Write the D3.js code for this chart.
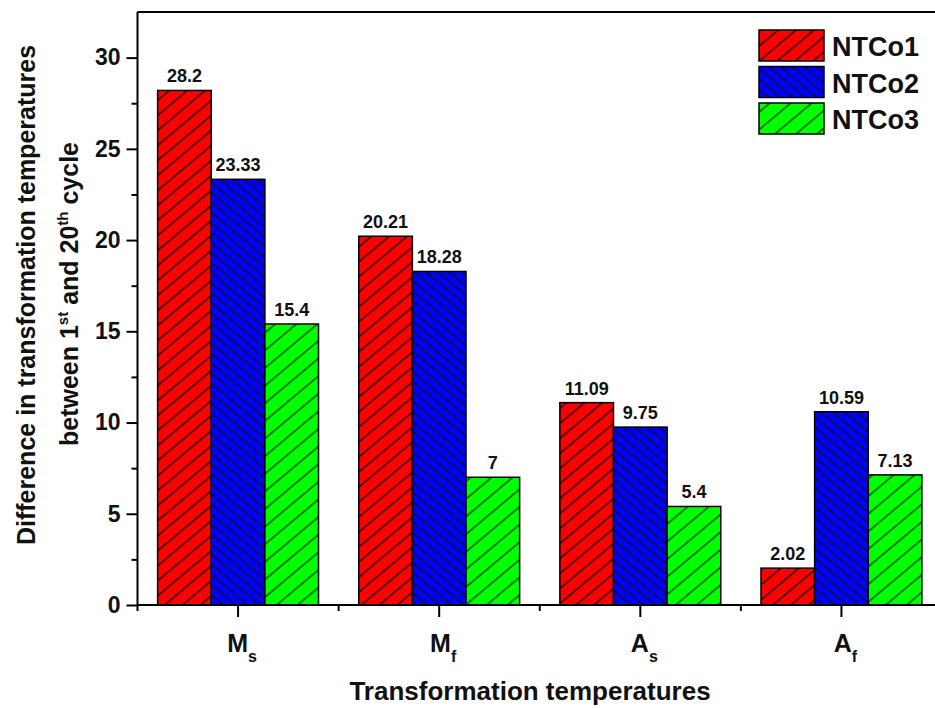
<!DOCTYPE html>
<html><head><meta charset="utf-8">
<script src="https://cdn.jsdelivr.net/npm/d3@7/dist/d3.min.js"></script>
<style>
html,body{margin:0;padding:0;background:#fff;}
svg{display:block;font-family:Arial,"Liberation Sans",sans-serif;font-weight:bold;}
</style></head>
<body><svg id="c" width="935" height="708"></svg>
<script>
const categories = ["M|s", "M|f", "A|s", "A|f"];
const seriesNames = ["NTCo1", "NTCo2", "NTCo3"];
const ntco1 = [28.2, 20.21, 11.09, 2.02];
const ntco2 = [23.33, 18.28, 9.75, 10.59];
const ntco3 = [15.4, 7, 5.4, 7.13];
const valueLabels = [["28.2","20.21","11.09","2.02"],["23.33","18.28","9.75","10.59"],["15.4","7","5.4","7.13"]];
const yTicks = [0, 5, 10, 15, 20, 25, 30];
const yMinor = [2.5, 7.5, 12.5, 17.5, 22.5, 27.5];
const colors = ["#ff0000", "#0000ff", "#00ff00"];
const series = [ntco1, ntco2, ntco3];

const svg = d3.select("#c");
const L = 137.5, R = 942, T = 12, B = 605;

const x = d3.scaleBand().domain(categories).range([L, R]).paddingInner(0.2).paddingOuter(0.1);
const step = x.step();
const xs = d3.scaleBand().domain(seriesNames).range([0, x.bandwidth()]).padding(0);
const y = d3.scaleLinear().domain([0, 32.5]).range([B, T]);

// patterns
const defs = svg.append("defs");
const pat = [
  {angle: -40, sp: 11.5, w: 1.4},
  {angle: 40, sp: 7.7, w: 1.3},
  {angle: -40, sp: 13.5, w: 1.1}
];
pat.forEach((p, i) => {
  const pt = defs.append("pattern").attr("id", "h" + i)
    .attr("patternUnits", "userSpaceOnUse")
    .attr("width", 20).attr("height", p.sp)
    .attr("patternTransform", `rotate(${p.angle})`);
  pt.append("rect").attr("width", 20).attr("height", p.sp).attr("fill", colors[i]);
  pt.append("line").attr("x1", 0).attr("x2", 20).attr("y1", p.sp/2).attr("y2", p.sp/2)
    .attr("stroke", "#111").attr("stroke-width", p.w);
});

// bars
series.forEach((vals, si) => {
  const g = svg.append("g");
  g.selectAll("rect").data(vals).join("rect")
    .attr("x", (d, i) => x(categories[i]) + xs(seriesNames[si]))
    .attr("y", d => y(d))
    .attr("width", xs.bandwidth())
    .attr("height", d => y(0) - y(d))
    .attr("fill", `url(#h${si})`)
    .attr("stroke", "#000").attr("stroke-width", 1.5);
  g.selectAll("text").data(vals).join("text")
    .attr("x", (d, i) => x(categories[i]) + xs(seriesNames[si]) + xs.bandwidth()/2)
    .attr("y", d => y(d) - 8)
    .attr("text-anchor", "middle")
    .attr("font-size", 18)
    .attr("fill", "#111")
    .text((d, i) => valueLabels[si][i]);
});

// frame lines
svg.append("line").attr("x1", L).attr("x2", R).attr("y1", T).attr("y2", T).attr("stroke", "#000").attr("stroke-width", 2);

// y axis
const yAxis = svg.append("g").attr("transform", `translate(${L},0)`)
  .call(d3.axisLeft(y).tickValues(yTicks).tickSize(11).tickPadding(6).tickFormat(d3.format("d")));
yAxis.select(".domain").attr("stroke-width", 2).attr("d", `M0,${T}V${B}`);
yAxis.selectAll(".tick line").attr("stroke-width", 2);
yAxis.selectAll(".tick text").attr("font-size", 23).attr("font-family", "Arial,'Liberation Sans',sans-serif").attr("font-weight", "bold").attr("fill", "#111");
svg.append("g").attr("transform", `translate(${L},0)`)
  .call(d3.axisLeft(y).tickValues(yMinor).tickSize(6).tickFormat(""))
  .call(g => g.select(".domain").remove())
  .selectAll(".tick line").attr("stroke-width", 2);

// x axis
const xAxis = svg.append("g").attr("transform", `translate(0,${B})`)
  .call(d3.axisBottom(x).tickSize(12).tickFormat(""));
xAxis.select(".domain").attr("stroke-width", 2).attr("d", `M${L},0H${R}`);
xAxis.selectAll(".tick line").attr("stroke-width", 2);
const bounds = categories.map(c => x(c) - step * 0.1 - step * 0.0).map((v, i) => x(categories[i]) + x.bandwidth()/2 - step/2);
bounds.push(x(categories[3]) + x.bandwidth()/2 + step/2);
svg.append("g").selectAll("line").data(bounds).join("line")
  .attr("x1", d => d).attr("x2", d => d).attr("y1", B).attr("y2", B + 6)
  .attr("stroke", "#000").attr("stroke-width", 2);

// x tick labels with subscripts
categories.forEach(c => {
  const [main, sub] = c.split("|");
  const t = svg.append("text")
    .attr("x", x(c) + x.bandwidth()/2 + 4).attr("y", 652)
    .attr("text-anchor", "middle").attr("font-size", 25).attr("fill", "#111");
  t.append("tspan").text(main);
  t.append("tspan").attr("dy", 10).attr("font-size", 16).text(sub);
});

// axis titles
svg.append("text").attr("x", 530).attr("y", 700).attr("text-anchor", "middle")
  .attr("font-size", 26).attr("fill", "#111").text("Transformation temperatures");
svg.append("text").attr("transform", "translate(35,295) rotate(-90)").attr("text-anchor", "middle")
  .attr("font-size", 25).attr("fill", "#111").text("Difference in transformation temperatures");
const t2 = svg.append("text").attr("transform", "translate(78,294) rotate(-90)").attr("text-anchor", "middle")
  .attr("font-size", 25).attr("fill", "#111");
t2.append("tspan").text("between 1");
t2.append("tspan").attr("dy", -10).attr("font-size", 15).text("st");
t2.append("tspan").attr("dy", 10).text(" and 20");
t2.append("tspan").attr("dy", -10).attr("font-size", 15).text("th");
t2.append("tspan").attr("dy", 10).text(" cycle");

// legend
const leg = svg.append("g");
seriesNames.forEach((n, i) => {
  const yy = 30 + i * 36.5;
  leg.append("rect").attr("x", 759).attr("y", yy).attr("width", 65).attr("height", 31)
    .attr("fill", `url(#h${i})`).attr("stroke", "#000").attr("stroke-width", 1.5);
  leg.append("text").attr("x", 832).attr("y", yy + 26).attr("font-size", 27).attr("fill", "#111").text(n);
});
</script></body></html>
